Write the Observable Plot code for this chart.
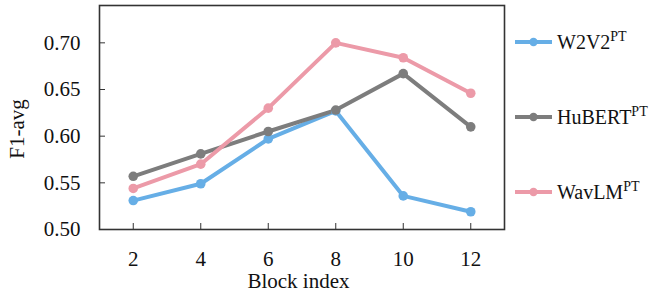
<!DOCTYPE html>
<html>
<head>
<meta charset="utf-8">
<script src="https://cdn.jsdelivr.net/npm/d3@7"></script>
<script src="https://cdn.jsdelivr.net/npm/@observablehq/plot@0.6"></script>
<style>
  body { margin: 0; background: #fff; }
  #chart { position: relative; width: 664px; height: 294px; }
</style>
</head>
<body>
<div id="chart"></div>
<script>
const blocks = [2, 4, 6, 8, 10, 12];
const seriesNames = ["W2V2", "HuBERT", "WavLM"];
const seriesColors = ["#66aee6", "#7d7d7d", "#ec9aa8"];
const w2v2 = [0.531, 0.549, 0.597, 0.627, 0.536, 0.519];
const hubert = [0.557, 0.581, 0.605, 0.628, 0.667, 0.610];
const wavlm = [0.544, 0.570, 0.630, 0.700, 0.684, 0.646];
const yTicks = [0.50, 0.55, 0.60, 0.65, 0.70];
const xTicks = [2, 4, 6, 8, 10, 12];

const values = [w2v2, hubert, wavlm];
const data = [];
seriesNames.forEach((s, i) => blocks.forEach((b, j) => data.push({series: s, block: b, f1: values[i][j]})));

const font = "'Liberation Serif', 'Times New Roman', serif";
const marginLeft = 99, marginRight = 160, marginTop = 5, marginBottom = 65;

const plot = Plot.plot({
  width: 664,
  height: 294,
  marginLeft, marginRight, marginTop, marginBottom,
  style: {fontFamily: font, fontSize: "21px", color: "#111", background: "#fff"},
  x: {domain: [1, 13], ticks: xTicks, label: null},
  y: {domain: [0.50, 0.74], ticks: yTicks, label: null},
  color: {domain: seriesNames, range: seriesColors},
  marks: [
    Plot.axisX({ticks: xTicks, tickSize: 0, tickPadding: 22, fontSize: 21, label: null}),
    Plot.axisX({ticks: xTicks, tickSize: -6, text: null, stroke: "#333", label: null}),
    Plot.axisY({ticks: yTicks, tickSize: 0, tickPadding: 19, tickFormat: d3.format(".2f"), fontSize: 21, label: null}),
    Plot.axisY({ticks: yTicks, tickSize: -6, text: null, stroke: "#333", label: null}),
    Plot.line(data, {x: "block", y: "f1", z: "series", stroke: "series", strokeWidth: 4}),
    Plot.dot(data, {x: "block", y: "f1", fill: "series", r: 4.8}),
    Plot.frame({stroke: "#333", strokeWidth: 1.6})
  ]
});

const svg = d3.select(plot);
// drop empty label nodes left by tick-only axes
svg.selectAll("text").filter(function() { return this.textContent.trim() === ""; }).remove();
svg.selectAll("text").style("font-family", font).style("font-size", "21px").attr("fill", "#111");

const plotLeft = marginLeft, plotRight = 664 - marginRight;
svg.append("text")
  .attr("x", (plotLeft + plotRight) / 2 - 3)
  .attr("y", 288)
  .attr("text-anchor", "middle")
  .style("font-family", font)
  .style("font-size", "21px")
  .attr("fill", "#111")
  .text("Block index");
svg.append("text")
  .attr("transform", `translate(24, ${129}) rotate(-90)`)
  .attr("text-anchor", "middle")
  .style("font-family", font)
  .style("font-size", "21px")
  .attr("fill", "#111")
  .text("F1-avg");

// legend
const legendY = [42, 117, 192];
seriesNames.forEach((s, i) => {
  const g = svg.append("g").attr("transform", `translate(515, ${legendY[i]})`);
  g.append("line").attr("x1", 0).attr("x2", 37).attr("y1", 0).attr("y2", 0)
    .attr("stroke", seriesColors[i]).attr("stroke-width", 4);
  g.append("circle").attr("cx", 18.5).attr("cy", 0).attr("r", 4.2).attr("fill", seriesColors[i]);
  const t = g.append("text").attr("x", 42).attr("y", 7)
    .attr("text-anchor", "start")
    .style("font-family", font).style("font-size", "20px").attr("fill", "#111");
  t.append("tspan").text(s);
  t.append("tspan").attr("dy", -8).style("font-size", "14px").text("PT");
});

document.getElementById("chart").appendChild(plot);
</script>
</body>
</html>
